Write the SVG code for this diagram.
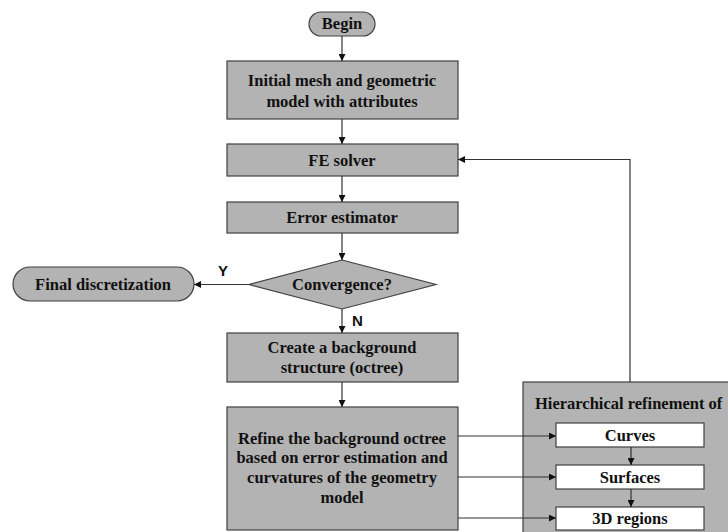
<svg xmlns="http://www.w3.org/2000/svg" width="728" height="532" viewBox="0 0 728 532">
  <style>
    .box { fill: #b3b3b3; stroke: #404040; stroke-width: 1.2; }
    .white { fill: #ffffff; stroke: #404040; stroke-width: 1.2; }
    .t { font-family: "Liberation Serif", "Times New Roman", serif; font-weight: bold; font-size: 16.5px; fill: #111; text-anchor: middle; }
    .lbl { font-family: "Liberation Sans", Arial, sans-serif; font-weight: bold; font-size: 15px; fill: #111; }
    .c { fill: none; stroke: #333; stroke-width: 1.2; }
  </style>
  <defs>
    <marker id="ah" viewBox="0 0 10 10" refX="10" refY="5" markerWidth="7" markerHeight="7" markerUnits="userSpaceOnUse" orient="auto">
      <path d="M0,0 L10,5 L0,10 z" fill="#111"/>
    </marker>
  </defs>
  <rect width="728" height="532" fill="#ffffff"/>

  <g id="begin">
    <rect class="box" x="309" y="12" width="66" height="24" rx="12" ry="12"/>
    <text class="t" x="342" y="29">Begin</text>
  </g>
  <g id="initial">
    <rect class="box" x="227" y="61" width="231" height="58"/>
    <text class="t" x="342" y="86">Initial mesh and geometric</text>
    <text class="t" x="342" y="107">model with attributes</text>
  </g>
  <g id="fe-solver">
    <rect class="box" x="227" y="144" width="231" height="32"/>
    <text class="t" x="342" y="166">FE solver</text>
  </g>
  <g id="error-estimator">
    <rect class="box" x="227" y="202" width="231" height="31"/>
    <text class="t" x="342" y="223">Error estimator</text>
  </g>
  <g id="convergence">
    <polygon class="box" points="342,260 436,284.5 342,309 249,284.5"/>
    <text class="t" x="342" y="290">Convergence?</text>
  </g>
  <g id="final">
    <rect class="box" x="13" y="267" width="181" height="34" rx="17" ry="17"/>
    <text class="t" x="103" y="290">Final discretization</text>
  </g>
  <g id="create">
    <rect class="box" x="227" y="333" width="231" height="49"/>
    <text class="t" x="342" y="353">Create a background</text>
    <text class="t" x="342" y="373">structure (octree)</text>
  </g>
  <g id="refine">
    <rect class="box" x="227" y="407" width="231" height="123"/>
    <text class="t" x="342" y="444">Refine the background octree</text>
    <text class="t" x="342" y="463">based on error estimation and</text>
    <text class="t" x="342" y="483">curvatures of the geometry</text>
    <text class="t" x="342" y="503">model</text>
  </g>
  <g id="hierarchical">
    <rect class="box" x="523" y="382" width="210" height="155"/>
    <text class="t" x="535" y="409" style="text-anchor:start">Hierarchical refinement of</text>
  </g>
  <g id="curves">
    <rect class="white" x="556" y="423" width="148" height="24"/>
    <text class="t" x="630" y="441">Curves</text>
  </g>
  <g id="surfaces">
    <rect class="white" x="556" y="465" width="148" height="24"/>
    <text class="t" x="630" y="483">Surfaces</text>
  </g>
  <g id="regions3d">
    <rect class="white" x="556" y="507" width="148" height="23"/>
    <text class="t" x="630" y="524">3D regions</text>
  </g>

  <g id="connectors">
    <line class="c" x1="342" y1="36" x2="342" y2="61" marker-end="url(#ah)"/>
    <line class="c" x1="342" y1="119" x2="342" y2="144" marker-end="url(#ah)"/>
    <line class="c" x1="342" y1="176" x2="342" y2="202" marker-end="url(#ah)"/>
    <line class="c" x1="342" y1="233" x2="342" y2="260" marker-end="url(#ah)"/>
    <line class="c" x1="249" y1="284.5" x2="194" y2="284.5" marker-end="url(#ah)"/>
    <line class="c" x1="342" y1="309" x2="342" y2="333" marker-end="url(#ah)"/>
    <line class="c" x1="342" y1="382" x2="342" y2="407" marker-end="url(#ah)"/>
    <polyline class="c" points="630,382 630,159.5 458,159.5" marker-end="url(#ah)"/>
    <line class="c" x1="458" y1="436" x2="556" y2="436" marker-end="url(#ah)"/>
    <line class="c" x1="458" y1="477" x2="556" y2="477" marker-end="url(#ah)"/>
    <line class="c" x1="458" y1="518" x2="556" y2="518" marker-end="url(#ah)"/>
    <line class="c" x1="631" y1="447" x2="631" y2="465" marker-end="url(#ah)"/>
    <line class="c" x1="631" y1="489" x2="631" y2="507" marker-end="url(#ah)"/>
    <text class="lbl" x="218" y="276">Y</text>
    <text class="lbl" x="352" y="326">N</text>
  </g>
</svg>
